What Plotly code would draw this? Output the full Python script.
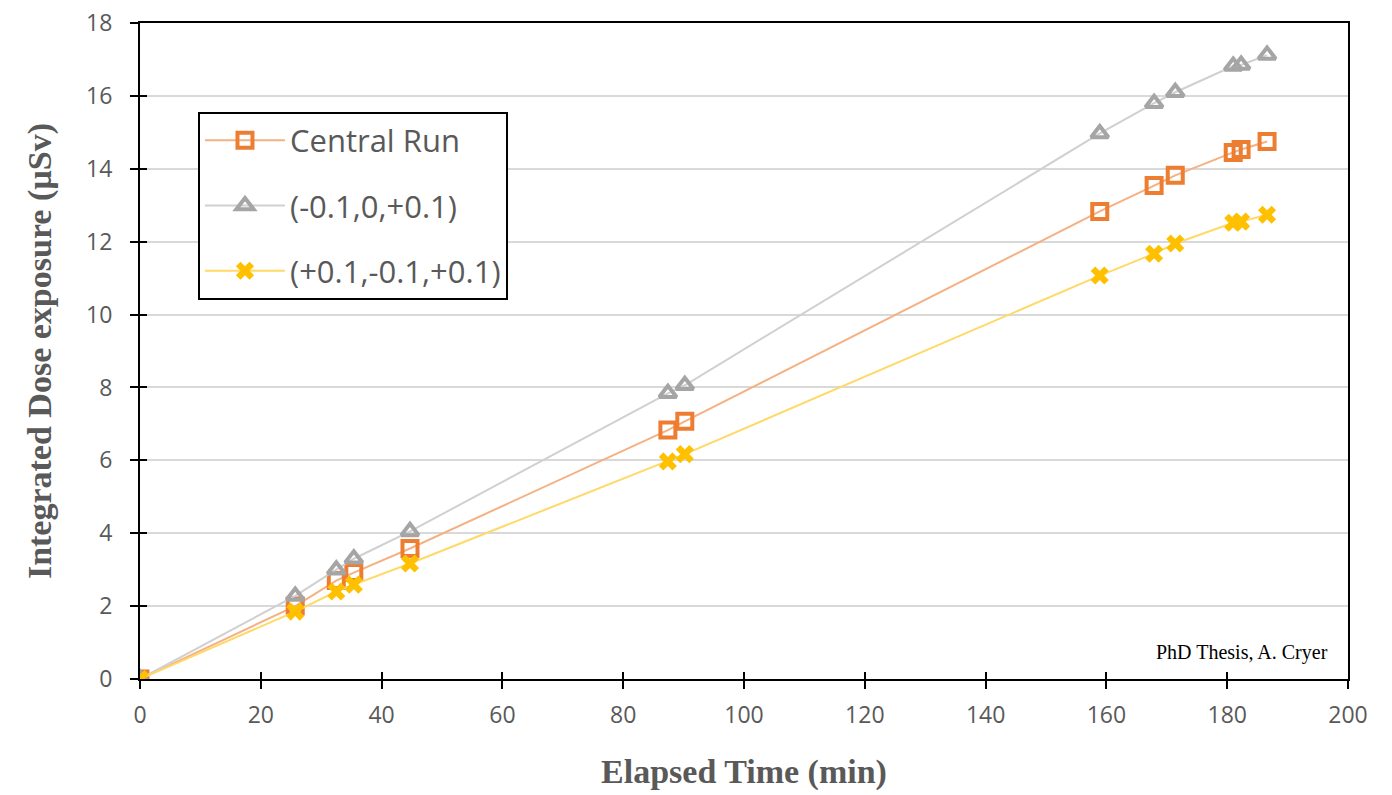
import plotly.graph_objects as go

time_min = [0, 25.7, 32.5, 35.4, 44.7, 87.4, 90.2, 158.9, 167.9, 171.4, 181.0, 182.3, 186.6]
central_run = [0, 2.0, 2.7, 2.92, 3.58, 6.83, 7.07, 12.83, 13.54, 13.82, 14.45, 14.53, 14.75]
run_minus = [0, 2.28, 3.0, 3.3, 4.05, 7.84, 8.06, 14.97, 15.8, 16.1, 16.82, 16.85, 17.12]
run_plus = [0, 1.85, 2.4, 2.59, 3.17, 5.97, 6.17, 11.07, 11.67, 11.95, 12.52, 12.55, 12.74]

names = ["Central Run", "(-0.1,0,+0.1)", "(+0.1,-0.1,+0.1)"]
x_ticks = list(range(0, 201, 20))
y_ticks = list(range(0, 19, 2))
x_range = [0, 200]
y_range = [0, 18]

serif = "Liberation Serif, Times New Roman, serif"
grey_txt = "#595959"

fig = go.Figure()
# helper traces so the overlaid axes (inner tick halves, labels) are drawn
for xa, ya in (("x2", "y2"), ("x3", "y3")):
    fig.add_trace(go.Scatter(x=[0], y=[0], xaxis=xa, yaxis=ya, mode="markers",
                             marker=dict(opacity=0), showlegend=False, hoverinfo="skip"))

fig.add_trace(go.Scatter(
    x=time_min, y=central_run, name=names[0], mode="lines+markers", legendgroup="a",
    line=dict(color="#F4B183", width=2),
    marker=dict(symbol="square-open", size=15, color="#ED7D31", line=dict(width=4, color="#ED7D31")),
))
fig.add_trace(go.Scatter(
    x=time_min, y=run_minus, name=names[1], mode="lines+markers", legendgroup="b",
    line=dict(color="#D0D0D0", width=2),
    marker=dict(symbol="triangle-up-open", size=15, color="#A5A5A5", line=dict(width=4, color="#A5A5A5")),
))
fig.add_trace(go.Scatter(
    x=time_min, y=run_plus, name=names[2], mode="lines+markers", legendgroup="c",
    line=dict(color="#FFD966", width=2),
    marker=dict(symbol="x", size=16, color="#FFC000", line=dict(width=0)),
))

common = dict(showgrid=False, zeroline=False, automargin=False)

fig.update_layout(
    width=1392, height=795,
    margin=dict(l=140, r=44, t=23, b=116),
    paper_bgcolor="white", plot_bgcolor="white",
    font=dict(family="Open Sans, sans-serif", color=grey_txt),
    legend=dict(
        x=0.048, y=0.865, xanchor="left", yanchor="top",
        bordercolor="black", borderwidth=2, bgcolor="white",
        font=dict(size=31, color=grey_txt, family="Open Sans, sans-serif"),
        tracegroupgap=22,
        itemwidth=80,
    ),
    # main axes: frame + outer halves of the crossing ticks
    xaxis=dict(range=x_range, tickvals=x_ticks, showline=True, mirror=True, linecolor="black",
               linewidth=2, ticks="outside", ticklen=8, tickwidth=1.5, tickcolor="black",
               showticklabels=False, **common),
    yaxis=dict(range=y_range, tickvals=y_ticks, showline=True, mirror=True, linecolor="black",
               linewidth=2, ticks="outside", ticklen=8, tickwidth=1.5, tickcolor="black",
               showticklabels=False, showgrid=True, gridcolor="#D9D9D9", gridwidth=2,
               zeroline=False, automargin=False),
    # inner halves of the crossing ticks
    xaxis2=dict(range=x_range, tickvals=x_ticks, overlaying="x", anchor="y2", side="bottom",
                ticks="inside", ticklen=7, tickwidth=1.5, tickcolor="black",
                showticklabels=False, showline=False, **common),
    yaxis2=dict(range=y_range, tickvals=y_ticks, overlaying="y", anchor="x2", side="left",
                ticks="inside", ticklen=7, tickwidth=1.5, tickcolor="black",
                showticklabels=False, showline=False, **common),
    # label axes: tick labels and titles, with invisible ticks as spacing
    xaxis3=dict(range=x_range, tickvals=x_ticks, overlaying="x", anchor="y3", side="bottom",
                ticks="outside", ticklen=15, tickcolor="rgba(0,0,0,0)", showline=False,
                tickfont=dict(size=23, color=grey_txt),
                title=dict(text="<b>Elapsed Time (min)</b>", standoff=30,
                           font=dict(family=serif, size=34, color=grey_txt)),
                **common),
    yaxis3=dict(range=y_range, tickvals=y_ticks, overlaying="y", anchor="x3", side="left",
                ticks="outside", ticklen=22, tickcolor="rgba(0,0,0,0)", showline=False,
                tickfont=dict(size=23, color=grey_txt),
                title=dict(text="<b>Integrated Dose exposure (µSv)</b>", standoff=24,
                           font=dict(family=serif, size=34, color=grey_txt)),
                **common),
    annotations=[dict(
        text="PhD Thesis, A. Cryer", xref="paper", yref="paper", x=0.985, y=0.04,
        xanchor="right", yanchor="middle", showarrow=False,
        font=dict(family=serif, size=20, color="black"),
    )],
)

fig.write_html("out.html")
